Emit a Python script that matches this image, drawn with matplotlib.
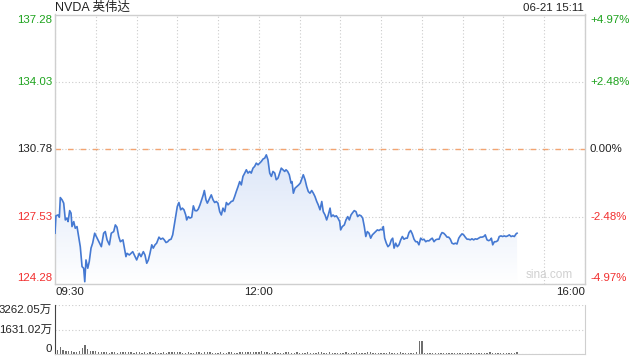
import numpy as np
import matplotlib.pyplot as plt
from matplotlib.colors import LinearSegmentedColormap

plt.rcParams['font.family'] = ['Liberation Sans', 'Noto Sans CJK SC', 'DejaVu Sans']
plt.rcParams['font.size'] = 8.25

# ---------------- data ----------------
title = "NVDA 英伟达"
stamp = "06-21 15:11"
prev_close = 130.78
price_ticks = [124.28, 127.53, 130.78, 134.03, 137.28]
pct_labels = ["-4.97%", "-2.48%", "0.00%", "+2.48%", "+4.97%"]
time_ticks = [0, 150, 390]            # minutes after 09:30
time_labels = ["09:30", "12:00", "16:00"]
vol_ticks = [0, 1631.02, 3262.05]     # 万
vol_labels = ["0", "1631.02万", "3262.05万"]

# minutes after 09:30 / price
minutes = [0, 0.7, 2.2, 3.2, 3.9, 5.2, 6.4, 7.6, 8.8, 9.6, 10.8, 11.8, 12.5, 13.8, 14.9,
           16.2, 17.4, 18.6, 19.9, 21.1, 21.9, 22.8, 24.1, 25.2, 26.5, 27.7, 29.2, 30.4,
           32.2, 34.1, 35.8, 37.0, 38.3, 40.0, 41.4, 43.2, 44.4, 45.6, 46.9, 48.1, 50.0,
           51.3, 52.2, 53.0, 54.7, 57.2, 58.9, 60.1, 62.0, 63.3, 65.0, 66.2, 67.5, 68.7,
           69.9, 71.2, 72.3, 73.6, 74.8, 76.5, 77.8, 79.3, 80.4, 81.7, 82.9, 84.1, 85.4,
           86.6, 87.6, 88.8, 90.0, 91.2, 92.5, 93.7, 94.9, 96.2, 96.9, 98.1, 99.3, 100.6,
           101.8, 103.0, 104.3, 105.4, 106.7, 107.9, 109.1, 109.9, 111.1, 112.1, 113.8,
           115.0, 116.3, 117.5, 118.7, 119.9, 121.2, 122.4, 123.6, 124.9, 126.1, 127.3,
           128.6, 129.7, 131.0, 132.2, 133.4, 134.7, 135.9, 137.1, 138.3, 139.6, 140.8,
           142.0, 143.3, 144.4, 145.7, 146.9, 148.1, 149.4, 150.6, 151.8, 153.1, 154.3,
           155.5, 156.7, 158.0, 159.2, 160.4, 161.7, 162.8, 164.1, 165.3, 166.5, 167.8,
           169.0, 170.0, 171.2, 172.4, 173.7, 174.4, 175.4, 176.6, 177.9, 179.3, 180.5,
           181.8, 182.7, 184.0, 185.2, 186.4, 187.6, 188.9, 190.1, 191.3, 192.6, 193.7,
           195.0, 196.3, 197.4, 198.7, 199.9, 201.1, 202.4, 203.3, 204.6, 205.8, 207.0,
           208.2, 209.5, 210.2, 211.4, 212.9, 214.1, 215.4, 216.6, 217.8, 219.1, 220.2,
           221.5, 222.7, 223.9, 225.2, 226.4, 227.6, 228.7, 229.8, 231.1, 232.3, 233.5,
           234.7, 236.0, 237.2, 238.4, 239.7, 240.8, 241.6, 242.6, 243.8, 245.0, 246.3,
           247.5, 248.5, 249.5, 250.7, 251.9, 253.1, 254.4, 255.6, 256.8, 258.1, 259.2,
           260.5, 261.7, 262.9, 264.2, 265.4, 266.6, 267.8, 269.1, 270.3, 271.5, 272.8,
           274.0, 275.2, 276.5, 277.6, 278.9, 280.1, 281.3, 282.6, 283.8, 284.8, 286.0,
           287.2, 288.5, 289.7, 290.9, 292.1, 293.4, 294.6, 295.8, 297.1, 298.2, 299.5,
           300.7, 301.9, 303.2, 304.4, 305.6, 306.8, 308.1, 309.3, 310.5, 311.8, 313.0,
           314.2, 315.5, 316.6, 317.9, 319.1, 320.3, 321.1, 322.1, 323.3, 324.5, 325.8,
           326.9, 328.2, 329.4, 330.6, 331.9, 333.1, 334.3, 335.6, 336.8, 338.0, 339.3,
           340.0]
prices = [126.73, 127.57, 127.61, 127.50, 128.45, 128.34, 128.18, 127.37, 127.46, 127.29,
          127.82, 127.70, 127.05, 127.29, 126.97, 127.05, 126.57, 126.08, 125.12, 125.04,
          124.39, 125.44, 125.04, 125.36, 126.01, 126.25, 126.73, 126.57, 126.32, 126.08,
          126.73, 126.81, 126.41, 126.17, 126.73, 126.81, 127.13, 127.02, 126.57, 126.32,
          126.41, 125.92, 125.60, 125.76, 125.68, 125.84, 125.60, 125.44, 125.76, 125.60,
          125.84, 125.68, 125.28, 125.44, 125.76, 126.17, 126.01, 126.17, 126.25, 126.54,
          126.44, 126.49, 126.41, 126.28, 126.32, 126.41, 126.44, 126.65, 127.05, 127.53,
          128.02, 128.21, 127.86, 127.94, 127.86, 127.61, 127.37, 127.53, 127.46, 127.50,
          128.05, 127.82, 127.81, 127.89, 128.10, 128.34, 128.58, 128.79, 128.34, 128.18,
          128.42, 128.58, 128.34, 128.21, 128.26, 128.18, 127.77, 127.61, 127.94, 127.77,
          128.21, 128.10, 128.18, 128.26, 128.29, 128.50, 128.74, 128.98, 129.22, 129.06,
          129.47, 129.63, 129.79, 129.63, 129.71, 129.63, 129.87, 129.95, 130.11, 130.03,
          130.11, 130.19, 130.31, 130.35, 130.51, 130.27, 129.63, 129.47, 129.71, 129.63,
          129.31, 129.39, 129.63, 129.87, 129.79, 129.71, 129.79, 129.71, 129.55, 129.15,
          129.22, 128.66, 128.90, 128.98, 129.06, 129.15, 129.39, 129.55, 129.31, 128.98,
          128.74, 128.66, 128.79, 128.66, 128.50, 128.26, 128.10, 127.86, 128.26, 127.77,
          127.61, 127.37, 127.61, 127.94, 127.53, 127.61, 127.53, 127.57, 127.46, 127.29,
          126.89, 127.05, 127.13, 127.37, 127.53, 127.37, 127.61, 127.73, 127.82, 127.77,
          127.53, 127.61, 127.57, 127.46, 127.05, 126.57, 126.81, 126.73, 126.49, 126.65,
          126.73, 126.81, 126.89, 126.86, 126.92, 126.89, 127.05, 126.49, 126.25, 126.08,
          126.17, 126.41, 126.49, 126.01, 126.25, 126.08, 126.17, 126.41, 126.57, 126.44,
          126.49, 126.49, 126.76, 126.86, 126.70, 126.44, 126.32, 126.32, 126.17, 126.49,
          126.41, 126.44, 126.32, 126.37, 126.36, 126.44, 126.49, 126.32, 126.41, 126.44,
          126.44, 126.65, 126.76, 126.73, 126.65, 126.54, 126.54, 126.44, 126.25, 126.21,
          126.25, 126.21, 126.49, 126.60, 126.70, 126.65, 126.54, 126.44, 126.44, 126.41,
          126.46, 126.41, 126.46, 126.44, 126.49, 126.54, 126.54, 126.57, 126.65, 126.41,
          126.37, 126.41, 126.49, 126.17, 126.32, 126.32, 126.37, 126.57, 126.60, 126.57,
          126.60, 126.57, 126.60, 126.65, 126.57, 126.60, 126.57, 126.70, 126.73]

# volume every 2 minutes, in 万
volumes = [290, 245, 490, 245, 200, 180, 200, 155, 155, 180, 400, 620, 333, 222, 180, 180,
           133, 110, 133, 110, 90, 110, 100, 90, 110, 100, 130, 110, 100, 90, 120,
           100, 90, 100, 80, 110, 90, 100, 90, 80, 100, 90, 100, 120, 160, 150,
           100, 80, 90, 100, 80, 90, 100, 110, 90, 100, 110, 100, 90, 80, 90,
           100, 80, 90, 110, 100, 90, 80, 100, 110, 130, 150, 120, 160, 140, 120,
           180, 110, 100, 90, 80, 100, 90, 80, 90, 110, 100, 80, 90, 100, 80,
           90, 80, 100, 90, 80, 90, 100, 110, 90, 80, 100, 90, 80, 90, 80,
           90, 100, 80, 90, 80, 100, 90, 80, 90, 100, 110, 90, 80, 90, 80,
           90, 80, 100, 90, 80, 90, 100, 90, 80, 90, 80, 90, 100, 845, 845,
           70, 80, 70, 80, 90, 70, 80, 70, 80, 70, 90, 80, 70, 80, 70,
           80, 70, 80, 90, 70, 80, 70, 80, 90, 100, 80, 70, 80, 70, 80, 90, 70, 80, 70, 100]
vol_minutes = np.arange(len(volumes)) * 2

# ---------------- colours ----------------
up, down, flat = '#1ea31e', '#f23030', '#222222'
grid_c = '#cccccc'
frame_c = '#cfcfcf'


def tone(v):
    if v > prev_close:
        return up
    if v < prev_close:
        return down
    return flat


fig = plt.figure(figsize=(6.4, 3.6), dpi=100)
W, H = 640, 360
ax = fig.add_axes([55 / W, 1 - 284 / H, 530 / W, 269.5 / H])
axv = fig.add_axes([55 / W, 1 - 354 / H, 530 / W, 49 / H])

# ---------------- price panel ----------------
ymin, ymax = price_ticks[0], price_ticks[-1]
mx, px = np.array(minutes), np.array(prices)
poly = ax.fill(np.r_[mx[0], mx, mx[-1]], np.r_[ymin, px, ymin],
               facecolor='none', edgecolor='none')[0]
cmap = LinearSegmentedColormap.from_list('fade', ['#ffffff', '#dce6f8'])
grad = np.linspace(1, 0, 256).reshape(-1, 1)
im = ax.imshow(grad, cmap=cmap, aspect='auto', origin='upper',
               extent=[0, 390, ymin, px.max()], zorder=1)
im.set_clip_path(poly)

ax.plot(mx, px, color='#4579d2', lw=1.2, zorder=3)
ax.axhline(prev_close, color='#f3a471', ls=(0, (4, 5)), lw=1.0, zorder=2)

ax.set_xlim(0, 390)
ax.set_ylim(ymin, ymax)
ax.set_xticks(np.arange(0, 391, 30))
ax.set_yticks(price_ticks)
ax.tick_params(length=0, labelbottom=False, labelleft=False)
ax.grid(color=grid_c, ls=(0, (1, 2)), lw=0.8, zorder=0)
ax.set_axisbelow(True)
for s in ax.spines.values():
    s.set_color(frame_c)
    s.set_linewidth(1.0)

tr = ax.get_yaxis_transform()
for i, (v, pl) in enumerate(zip(price_ticks, pct_labels)):
    va = 'bottom' if i == 0 else ('top' if i == len(price_ticks) - 1 else 'center')
    dy = 1 if i == 0 else (-1 if i == len(price_ticks) - 1 else 0)
    ax.annotate(f"{v:.2f}", xy=(0, v), xycoords=tr, xytext=(-3, dy),
                textcoords='offset pixels', ha='right', va=va, color=tone(v))
    ax.annotate(pl, xy=(1, v), xycoords=tr, xytext=(5, dy),
                textcoords='offset pixels', ha='left', va=va, color=tone(v))

for t, lab in zip(time_ticks, time_labels):
    ha = 'left' if t == 0 else ('right' if t == 390 else 'center')
    ax.annotate(lab, xy=(t, 0), xycoords=('data', 'axes fraction'), xytext=(0, -3),
                textcoords='offset pixels', ha=ha, va='top', color='#222222')

ax.text(0.977, 0.01, "sina.com", transform=ax.transAxes, ha='right', va='bottom',
        color='#d0d0d0', fontsize=8.5)

fig.text(55 / W, 1 - 8 / H, title, ha='left', va='center', fontsize=9, color='#222222')
fig.text(584 / W, 1 - 8 / H, stamp, ha='right', va='center', color='#222222')

# ---------------- volume panel ----------------
axv.bar(vol_minutes, volumes, width=1.0, color='#6e6e6e', zorder=2)
axv.set_xlim(0, 390)
axv.set_ylim(0, vol_ticks[-1])
axv.set_yticks(vol_ticks)
axv.set_xticks([])
axv.tick_params(length=0, labelleft=False)
axv.yaxis.grid(True, color=grid_c, ls=(0, (1, 2)), lw=0.8)
axv.spines['top'].set_visible(False)
axv.spines['left'].set_color('#444444')
axv.spines['right'].set_color(frame_c)
axv.spines['bottom'].set_color(frame_c)

trv = axv.get_yaxis_transform()
for i, (v, lab) in enumerate(zip(vol_ticks, vol_labels)):
    va = 'bottom' if i == 0 else ('top' if i == len(vol_ticks) - 1 else 'center')
    axv.annotate(lab, xy=(0, v), xycoords=trv, xytext=(-3, 0),
                 textcoords='offset pixels', ha='right', va=va, color='#222222')

fig.savefig('out.png', dpi=100)
